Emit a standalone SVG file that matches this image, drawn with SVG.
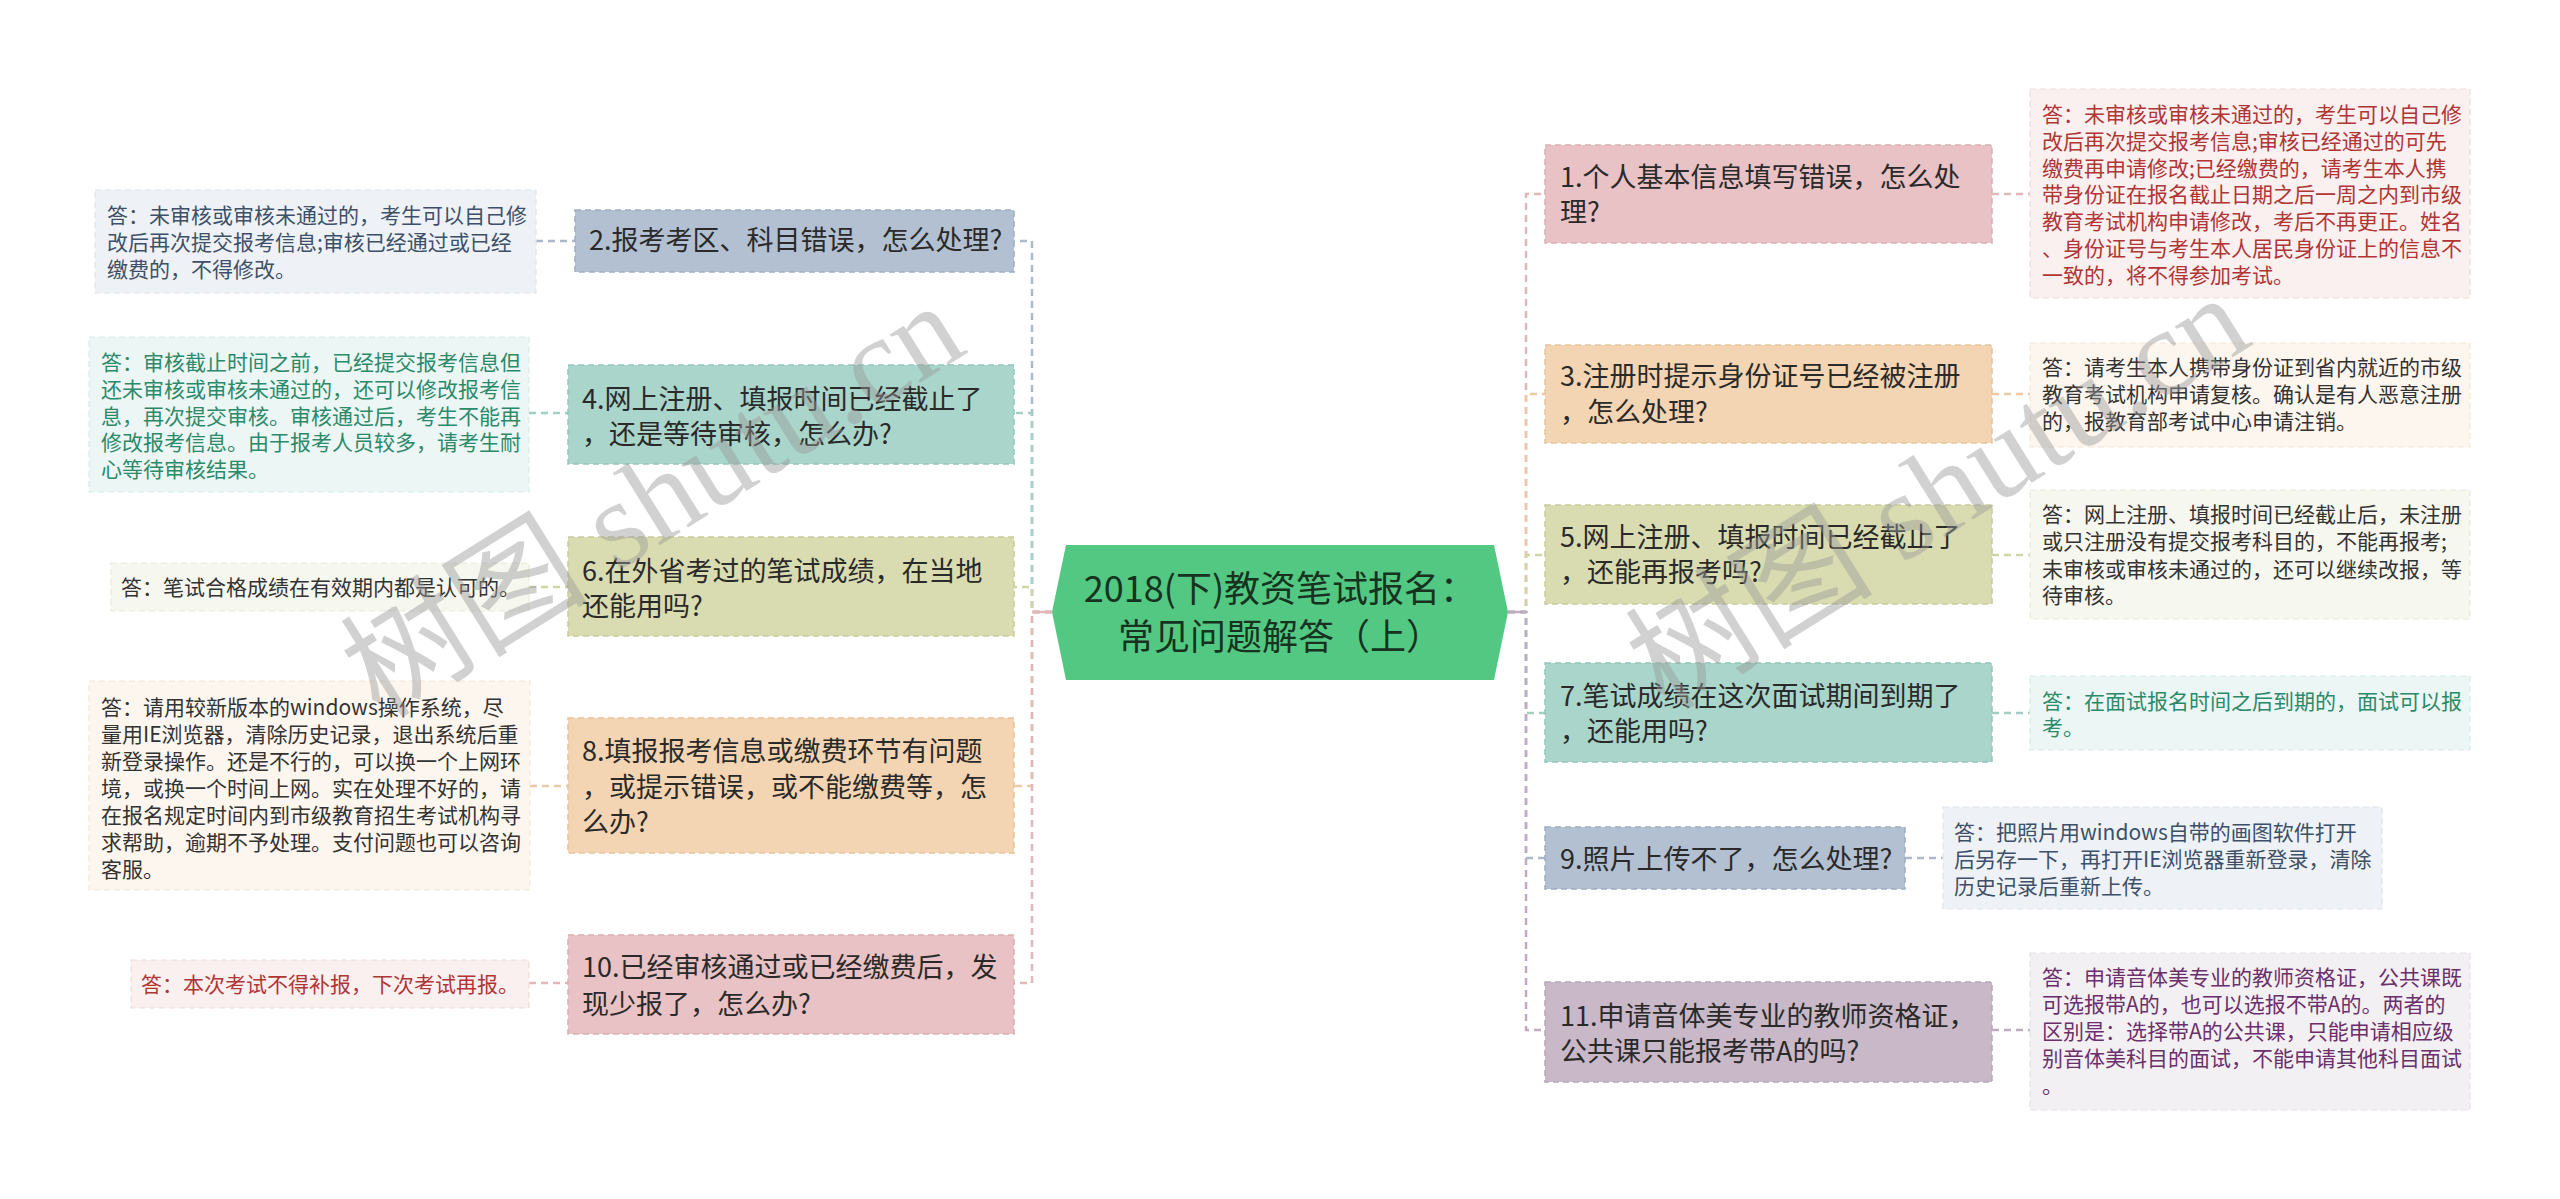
<svg xmlns="http://www.w3.org/2000/svg" width="2560" height="1199" viewBox="0 0 2560 1199">
<style>
text { font-family: "Noto Sans CJK SC", "Noto Sans CJK JP", sans-serif; }
.q { font-size: 27px; fill: #2a2a2a; }
.a { font-size: 21px; }
.c { font-size: 36px; fill: #17331f; }
.t-blue { fill: #3d5068; }
.t-green { fill: #2b8a6a; }
.t-dark { fill: #333333; }
.t-red { fill: #b03535; }
.t-purple { fill: #6b2f6b; }
.nb { stroke-width: 1.5; stroke-dasharray: 6 4; }
.ab { stroke-width: 1.2; stroke-dasharray: 6 4; }
.ln { fill: none; stroke-width: 2.5; stroke-dasharray: 7 5; }
.wm { font-family: "Liberation Serif", "Noto Sans CJK SC", serif; font-size: 124px; fill: #9a9a9a; fill-opacity: 0.45; }
</style>

<g id="connectors">
  <path class="ln" stroke="#abb9ca" d="M1052 612 H1032 V241 H1014"/>
  <path class="ln" stroke="#a0cec3" d="M1052 612 H1032 V413 H1014"/>
  <path class="ln" stroke="#d0d5a6" d="M1052 612 H1032 V587 H1014"/>
  <path class="ln" stroke="#ecc9a4" d="M1052 612 H1032 V786 H1014"/>
  <path class="ln" stroke="#e2b7ba" d="M1052 612 H1032 V983 H1014"/>
  <path fill="none" stroke="#e2b7ba" stroke-width="2.5" d="M1032 612 H1052"/>
  <path class="ln" stroke="#abb9ca" d="M536 241 H575"/>
  <path class="ln" stroke="#a0cec3" d="M529 413 H568"/>
  <path class="ln" stroke="#d0d5a6" d="M529 587 H568"/>
  <path class="ln" stroke="#ecc9a4" d="M530 786 H568"/>
  <path class="ln" stroke="#e2b7ba" d="M529 983 H568"/>

  <path class="ln" stroke="#e2b7ba" d="M1508 612 H1526 V194 H1545"/>
  <path class="ln" stroke="#ecc9a4" d="M1508 612 H1526 V394 H1545"/>
  <path class="ln" stroke="#d0d5a6" d="M1508 612 H1526 V555 H1545"/>
  <path class="ln" stroke="#a0cec3" d="M1508 612 H1526 V713 H1545"/>
  <path class="ln" stroke="#abb9ca" d="M1508 612 H1526 V858 H1545"/>
  <path class="ln" stroke="#bfadbf" d="M1508 612 H1526 V1030 H1545"/>
  <path fill="none" stroke="#bfadbf" stroke-width="2.5" d="M1508 612 H1526"/>
  <path class="ln" stroke="#e2b7ba" d="M1992 194 H2030"/>
  <path class="ln" stroke="#ecc9a4" d="M1992 394 H2030"/>
  <path class="ln" stroke="#d0d5a6" d="M1992 555 H2030"/>
  <path class="ln" stroke="#a0cec3" d="M1992 713 H2030"/>
  <path class="ln" stroke="#abb9ca" d="M1905 858 H1943"/>
  <path class="ln" stroke="#bfadbf" d="M1992 1030 H2030"/>
</g>

<g id="center">
  <polygon points="1052,612 1066,545 1494,545 1508,612 1494,680 1066,680" fill="#52c882"/>
  <text class="c" x="1280" y="602" text-anchor="middle">2018(下)教资笔试报名：</text>
  <text class="c" x="1280" y="650" text-anchor="middle">常见问题解答（上）</text>
</g>

<!-- Left question nodes -->
<g id="q2">
  <rect class="nb" x="575" y="210" width="439" height="62" fill="#b2c0d1" stroke="#9eadc0"/>
  <text class="q" x="589" y="250">2.报考考区、科目错误，怎么处理?</text>
</g>
<g id="q4">
  <rect class="nb" x="568" y="365" width="446" height="99" fill="#a9d5cb" stroke="#95c5ba"/>
  <text class="q" x="582" y="409">4.网上注册、填报时间已经截止了</text>
  <text class="q" x="582" y="444">，还是等待审核，怎么办?</text>
</g>
<g id="q6">
  <rect class="nb" x="568" y="537" width="446" height="99" fill="#d9dcb1" stroke="#c7cb9b"/>
  <text class="q" x="582" y="581">6.在外省考过的笔试成绩，在当地</text>
  <text class="q" x="582" y="616">还能用吗?</text>
</g>
<g id="q8">
  <rect class="nb" x="568" y="718" width="446" height="135" fill="#f3d5b3" stroke="#e6c39d"/>
  <text class="q" x="582" y="761">8.填报报考信息或缴费环节有问题</text>
  <text class="q" x="582" y="797">，或提示错误，或不能缴费等，怎</text>
  <text class="q" x="582" y="832">么办?</text>
</g>
<g id="q10">
  <rect class="nb" x="568" y="935" width="446" height="99" fill="#e8c2c4" stroke="#d9aeb1"/>
  <text class="q" x="582" y="977">10.已经审核通过或已经缴费后，发</text>
  <text class="q" x="582" y="1014">现少报了，怎么办?</text>
</g>

<!-- Left answers -->
<g id="a2">
  <rect class="ab" x="95" y="190" width="441" height="103" fill="#eef2f6" stroke="#dde3ea"/>
  <text class="a t-blue" x="107" y="223">答：未审核或审核未通过的，考生可以自己修</text>
  <text class="a t-blue" x="107" y="250">改后再次提交报考信息;审核已经通过或已经</text>
  <text class="a t-blue" x="107" y="277">缴费的，不得修改。</text>
</g>
<g id="a4">
  <rect class="ab" x="89" y="337" width="440" height="155" fill="#ecf6f4" stroke="#d8ebe6"/>
  <text class="a t-green" x="101" y="370">答：审核截止时间之前，已经提交报考信息但</text>
  <text class="a t-green" x="101" y="397">还未审核或审核未通过的，还可以修改报考信</text>
  <text class="a t-green" x="101" y="424">息，再次提交审核。审核通过后，考生不能再</text>
  <text class="a t-green" x="101" y="450">修改报考信息。由于报考人员较多，请考生耐</text>
  <text class="a t-green" x="101" y="477">心等待审核结果。</text>
</g>
<g id="a6">
  <rect class="ab" x="111" y="563" width="418" height="48" fill="#f6f7ef" stroke="#e8eada"/>
  <text class="a t-dark" x="121" y="595">答：笔试合格成绩在有效期内都是认可的。</text>
</g>
<g id="a8">
  <rect class="ab" x="89" y="681" width="441" height="209" fill="#fdf6ee" stroke="#f2e6d8"/>
  <text class="a t-dark" x="101" y="715">答：请用较新版本的windows操作系统，尽</text>
  <text class="a t-dark" x="101" y="742">量用IE浏览器，清除历史记录，退出系统后重</text>
  <text class="a t-dark" x="101" y="769">新登录操作。还是不行的，可以换一个上网环</text>
  <text class="a t-dark" x="101" y="796">境，或换一个时间上网。实在处理不好的，请</text>
  <text class="a t-dark" x="101" y="823">在报名规定时间内到市级教育招生考试机构寻</text>
  <text class="a t-dark" x="101" y="850">求帮助，逾期不予处理。支付问题也可以咨询</text>
  <text class="a t-dark" x="101" y="877">客服。</text>
</g>
<g id="a10">
  <rect class="ab" x="131" y="960" width="398" height="48" fill="#faf0f0" stroke="#efdcdc"/>
  <text class="a t-red" x="141" y="992">答：本次考试不得补报，下次考试再报。</text>
</g>

<!-- Right question nodes -->
<g id="q1">
  <rect class="nb" x="1545" y="145" width="447" height="98" fill="#e8c2c4" stroke="#d9aeb1"/>
  <text class="q" x="1560" y="187">1.个人基本信息填写错误，怎么处</text>
  <text class="q" x="1560" y="222">理?</text>
</g>
<g id="q3">
  <rect class="nb" x="1545" y="345" width="447" height="98" fill="#f3d5b3" stroke="#e6c39d"/>
  <text class="q" x="1560" y="386">3.注册时提示身份证号已经被注册</text>
  <text class="q" x="1560" y="422">，怎么处理?</text>
</g>
<g id="q5">
  <rect class="nb" x="1545" y="505" width="447" height="99" fill="#d9dcb1" stroke="#c7cb9b"/>
  <text class="q" x="1560" y="547">5.网上注册、填报时间已经截止了</text>
  <text class="q" x="1560" y="582">，还能再报考吗?</text>
</g>
<g id="q7">
  <rect class="nb" x="1545" y="663" width="447" height="99" fill="#a9d5cb" stroke="#95c5ba"/>
  <text class="q" x="1560" y="706">7.笔试成绩在这次面试期间到期了</text>
  <text class="q" x="1560" y="741">，还能用吗?</text>
</g>
<g id="q9">
  <rect class="nb" x="1545" y="827" width="360" height="62" fill="#b2c0d1" stroke="#9eadc0"/>
  <text class="q" x="1560" y="869">9.照片上传不了，怎么处理?</text>
</g>
<g id="q11">
  <rect class="nb" x="1545" y="982" width="447" height="100" fill="#c9b8c8" stroke="#b8a5b7"/>
  <text class="q" x="1560" y="1026">11.申请音体美专业的教师资格证，</text>
  <text class="q" x="1560" y="1061">公共课只能报考带A的吗?</text>
</g>

<!-- Right answers -->
<g id="a1">
  <rect class="ab" x="2030" y="89" width="440" height="209" fill="#faf0f0" stroke="#efdcdc"/>
  <text class="a t-red" x="2042" y="122">答：未审核或审核未通过的，考生可以自己修</text>
  <text class="a t-red" x="2042" y="149">改后再次提交报考信息;审核已经通过的可先</text>
  <text class="a t-red" x="2042" y="176">缴费再申请修改;已经缴费的，请考生本人携</text>
  <text class="a t-red" x="2042" y="202">带身份证在报名截止日期之后一周之内到市级</text>
  <text class="a t-red" x="2042" y="229">教育考试机构申请修改，考后不再更正。姓名</text>
  <text class="a t-red" x="2042" y="256">、身份证号与考生本人居民身份证上的信息不</text>
  <text class="a t-red" x="2042" y="283">一致的，将不得参加考试。</text>
</g>
<g id="a3">
  <rect class="ab" x="2030" y="343" width="440" height="104" fill="#fdf6ee" stroke="#f2e6d8"/>
  <text class="a t-dark" x="2042" y="375">答：请考生本人携带身份证到省内就近的市级</text>
  <text class="a t-dark" x="2042" y="402">教育考试机构申请复核。确认是有人恶意注册</text>
  <text class="a t-dark" x="2042" y="429">的，报教育部考试中心申请注销。</text>
</g>
<g id="a5">
  <rect class="ab" x="2030" y="490" width="440" height="129" fill="#f6f7ef" stroke="#e8eada"/>
  <text class="a t-dark" x="2042" y="522">答：网上注册、填报时间已经截止后，未注册</text>
  <text class="a t-dark" x="2042" y="549">或只注册没有提交报考科目的，不能再报考;</text>
  <text class="a t-dark" x="2042" y="577">未审核或审核未通过的，还可以继续改报，等</text>
  <text class="a t-dark" x="2042" y="603">待审核。</text>
</g>
<g id="a7">
  <rect class="ab" x="2030" y="676" width="440" height="74" fill="#ecf6f4" stroke="#d8ebe6"/>
  <text class="a t-green" x="2042" y="709">答：在面试报名时间之后到期的，面试可以报</text>
  <text class="a t-green" x="2042" y="735">考。</text>
</g>
<g id="a9">
  <rect class="ab" x="1943" y="807" width="439" height="102" fill="#eef2f6" stroke="#dde3ea"/>
  <text class="a t-blue" x="1954" y="840">答：把照片用windows自带的画图软件打开</text>
  <text class="a t-blue" x="1954" y="867">后另存一下，再打开IE浏览器重新登录，清除</text>
  <text class="a t-blue" x="1954" y="894">历史记录后重新上传。</text>
</g>
<g id="a11">
  <rect class="ab" x="2030" y="953" width="440" height="157" fill="#f3f0f3" stroke="#e5dfe5"/>
  <text class="a t-purple" x="2042" y="985">答：申请音体美专业的教师资格证，公共课既</text>
  <text class="a t-purple" x="2042" y="1012">可选报带A的，也可以选报不带A的。两者的</text>
  <text class="a t-purple" x="2042" y="1039">区别是：选择带A的公共课，只能申请相应级</text>
  <text class="a t-purple" x="2042" y="1066">别音体美科目的面试，不能申请其他科目面试</text>
  <text class="a t-purple" x="2042" y="1093">。</text>
</g>

<g id="watermarks">
  <text class="wm" x="380" y="720" transform="rotate(-32 380 720)">树图 shutu.cn</text>
  <text class="wm" x="1665" y="712" transform="rotate(-32 1665 712)">树图 shutu.cn</text>
</g>
</svg>
